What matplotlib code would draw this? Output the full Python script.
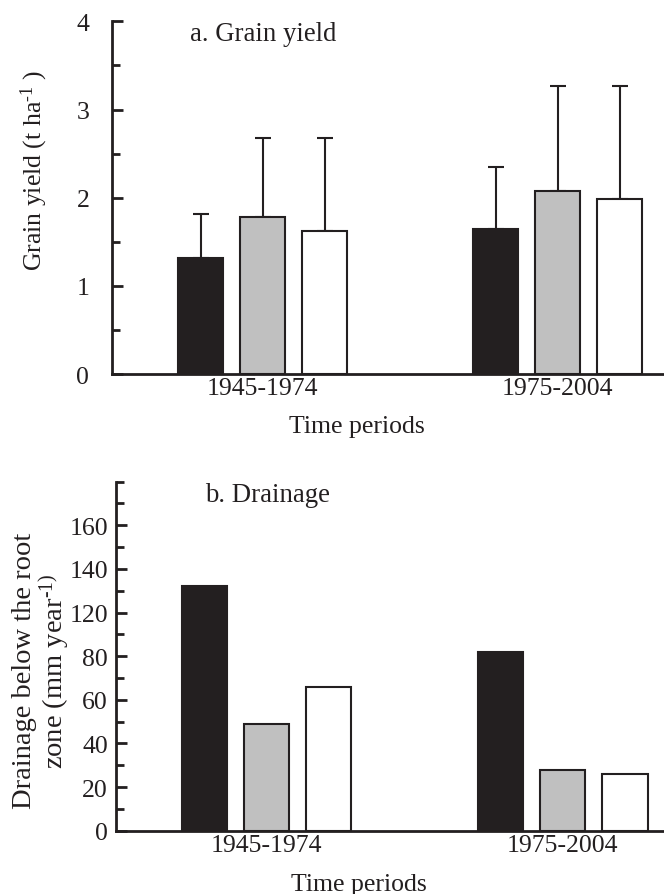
import numpy as np
import matplotlib.pyplot as plt
from matplotlib.ticker import MultipleLocator, FixedLocator

plt.rcParams['font.family'] = ['Liberation Serif', 'DejaVu Serif']
plt.rcParams['mathtext.fontset'] = 'custom'
plt.rcParams['mathtext.rm'] = 'Liberation Serif'
plt.rcParams['mathtext.it'] = 'Liberation Serif:italic'

# Data
periods = ["1945-1974", "1975-2004"]
bar_colors = ["#231f20", "#c0c0c0", "#ffffff"]

yield_means = [[1.32, 1.78, 1.62], [1.65, 2.08, 1.99]]
yield_upper = [[1.81, 2.68, 2.68], [2.35, 3.27, 3.27]]

# drainage as placed on the printed axis (axis labels skip 100)
drain_pos = [[112, 49, 66], [82, 28, 26]]
drain_ticks = [0, 20, 40, 60, 80, 100, 120, 140]
drain_ticklabels = ["0", "20", "40", "60", "80", "120", "140", "160"]

ink = "#231f20"
fs = 18.5
fs_lab = 20.5

fig = plt.figure(figsize=(6.64, 8.95), dpi=100)
ax1 = fig.add_axes([0.168, 0.581, 0.832, 0.394])
ax2 = fig.add_axes([0.175, 0.0707, 0.825, 0.39])

offsets = [-0.21, 0.0, 0.21]
width = 0.153
x = np.arange(len(periods))

for ax in (ax1, ax2):
    for s in ("top", "right"):
        ax.spines[s].set_visible(False)
    for s in ("left", "bottom"):
        ax.spines[s].set_linewidth(2.0)
        ax.spines[s].set_color(ink)
    ax.set_xticks(x)
    ax.set_xticklabels(periods, fontsize=fs)
    ax.tick_params(axis="x", length=0, pad=2, colors=ink)
    ax.tick_params(axis="y", which="major", direction="in", length=8, width=2,
                   labelsize=fs, colors=ink)
    ax.tick_params(axis="y", which="minor", direction="in", length=6, width=2, colors=ink)
    ax.set_xlabel("Time periods", fontsize=fs, color=ink)

# panel a
for j in range(3):
    vals = [yield_means[i][j] for i in range(2)]
    err = [yield_upper[i][j] - yield_means[i][j] for i in range(2)]
    ax1.bar(x + offsets[j], vals, width, color=bar_colors[j], edgecolor=ink,
            linewidth=1.5, zorder=2)
    ax1.errorbar(x + offsets[j], vals, yerr=[np.zeros(2), err], fmt="none",
                 ecolor=ink, elinewidth=1.5, capsize=5.5, capthick=1.5, zorder=1)
ax1.set_ylim(0, 4)
ax1.set_xlim(-0.513, 1.36)
ax1.yaxis.set_major_locator(MultipleLocator(1))
ax1.yaxis.set_minor_locator(MultipleLocator(0.5))
ax1.tick_params(axis="y", which="major", pad=16)
ax1.set_ylabel("Grain yield (t ha$^{\\text{-1}}$ )", fontsize=18.5, color=ink)
ax1.yaxis.set_label_coords(-0.112, 0.58)
ax1.xaxis.set_label_coords(0.444, -0.116)
ax1.text(0.142, 1.0, "a. Grain yield", transform=ax1.transAxes, fontsize=19.3,
         va="top", ha="left", color=ink)

# panel b
for j in range(3):
    vals = [drain_pos[i][j] for i in range(2)]
    ax2.bar(x + offsets[j], vals, width, color=bar_colors[j], edgecolor=ink,
            linewidth=1.5, zorder=2)
ax2.set_ylim(0, 160)
ax2.set_xlim(-0.508, 1.342)
ax2.yaxis.set_major_locator(FixedLocator(drain_ticks))
ax2.set_yticklabels(drain_ticklabels)
ax2.yaxis.set_minor_locator(FixedLocator([10, 30, 50, 70, 90, 110, 130, 150, 160]))
ax2.tick_params(axis="y", which="major", pad=6)
ax2.set_ylabel("Drainage below the root\nzone (mm year$^{\\text{-1)}}$",
               fontsize=fs_lab, color=ink, linespacing=1.05)
ax2.yaxis.set_label_coords(-0.080, 0.46)
ax2.xaxis.set_label_coords(0.443, -0.1215)
ax2.text(0.162, 1.0, "b. Drainage", transform=ax2.transAxes, fontsize=19.3,
         va="top", ha="left", color=ink)

fig.savefig("out.png", dpi=100)
